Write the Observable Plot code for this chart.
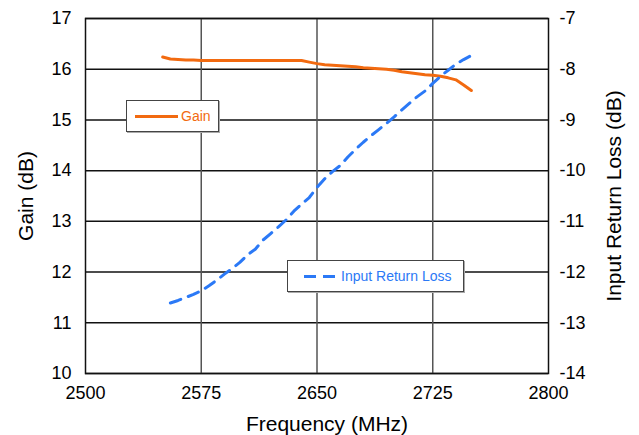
<!DOCTYPE html>
<html><head><meta charset="utf-8">
<script src="https://cdn.jsdelivr.net/npm/d3@7"></script>
<script src="https://cdn.jsdelivr.net/npm/@observablehq/plot@0.6"></script>
<style>
html,body{margin:0;padding:0;background:#fff;}
#wrap{position:relative;width:639px;height:435px;font-family:"Liberation Sans",Arial,sans-serif;}
.leg{position:absolute;box-sizing:border-box;background:#fff;border:1.5px solid #444;box-shadow:1px 1px 0 #aaa;display:flex;align-items:center;font-size:14px;}
.sw{display:inline-block;height:0;}
</style></head><body><div id="wrap"></div>
<script>
const gainFreq = [2550,2555,2560,2565,2570,2575,2580,2590,2600,2610,2620,2630,2640,2645,2650,2655,2660,2665,2670,2675,2680,2685,2690,2695,2700,2705,2710,2715,2720,2725,2730,2735,2740,2745,2750];
const gainDb = [16.24,16.20,16.19,16.18,16.18,16.17,16.17,16.17,16.17,16.17,16.17,16.17,16.17,16.14,16.11,16.09,16.08,16.07,16.06,16.05,16.03,16.02,16.01,16.00,15.98,15.95,15.93,15.91,15.89,15.88,15.86,15.83,15.79,15.69,15.58];
const irlFreq = [2555,2560,2565,2570,2575,2580,2585,2590,2595,2600,2605,2610,2615,2620,2625,2630,2635,2640,2645,2650,2655,2660,2665,2670,2675,2680,2685,2690,2695,2700,2705,2710,2715,2720,2725,2730,2735,2740,2745,2750];
const irlDb = [-12.61,-12.56,-12.50,-12.44,-12.37,-12.27,-12.16,-12.04,-11.93,-11.81,-11.66,-11.55,-11.37,-11.24,-11.11,-10.97,-10.80,-10.66,-10.53,-10.33,-10.16,-10.02,-9.90,-9.73,-9.58,-9.44,-9.31,-9.19,-9.07,-8.94,-8.80,-8.67,-8.54,-8.43,-8.28,-8.14,-8.02,-7.90,-7.81,-7.73];
const xTicks = [2500,2575,2650,2725,2800];
const gainTicks = [10,11,12,13,14,15,16,17];
const irlTicks = [-14,-13,-12,-11,-10,-9,-8,-7];
const gainDomain = [10,17];
const irlDomain = [-14,-7];
const off = gainDomain[0] - irlDomain[0]; // maps right axis onto left scale

const gainData = gainFreq.map((f,i)=>({f, v:gainDb[i]}));
const irlData = irlFreq.map((f,i)=>({f, v:irlDb[i]}));
const font = '"Liberation Sans",Arial,sans-serif';

const chart = Plot.plot({
  width:639, height:435,
  marginLeft:85, marginRight:91, marginTop:18, marginBottom:62,
  style:{fontFamily:font, background:"#fff", color:"#000"},
  x:{domain:[2500,2800]},
  y:{domain:gainDomain},
  marks:[
    Plot.gridY(gainTicks,{stroke:"#111",strokeOpacity:1,strokeWidth:1.5}),
    Plot.gridX([2575,2650,2725],{stroke:"#555",strokeOpacity:1,strokeWidth:1.5}),
    Plot.frame({stroke:"#111",strokeWidth:1.5}),
    Plot.axisX(xTicks,{tickSize:0,tickPadding:13,fontSize:18,label:null,tickFormat:d=>String(d)}),
    Plot.axisY(gainTicks,{anchor:"left",tickSize:0,tickPadding:14,fontSize:18,label:null,tickFormat:d=>String(d)}),
    Plot.axisY(irlTicks.map(t=>t+off),{anchor:"right",tickSize:0,tickPadding:11,fontSize:18,label:null,tickFormat:d=>String(d-off)}),
    Plot.text(["Frequency (MHz)"],{frameAnchor:"bottom",textAnchor:"middle",lineAnchor:"middle",dx:10,dy:51,fontSize:21,fill:"#000"}),
    Plot.text(["Gain (dB)"],{frameAnchor:"left",textAnchor:"middle",lineAnchor:"middle",dx:-59,rotate:-90,fontSize:21,fill:"#000"}),
    Plot.text(["Input Return Loss (dB)"],{frameAnchor:"right",textAnchor:"middle",lineAnchor:"middle",dx:66,rotate:-90,fontSize:21,fill:"#000"}),
    Plot.line(gainData,{x:"f",y:"v",stroke:"#f26a10",strokeWidth:3}),
    Plot.line(irlData,{x:"f",y:d=>d.v+off,stroke:"#2b79f6",strokeWidth:3,strokeDasharray:"11,8",strokeLinecap:"round"})
  ]
});
const wrap = document.getElementById("wrap");
wrap.appendChild(chart);

function legend(left, top, w, h, color, dash, label, swW, pad, gap){
  const d = document.createElement("div");
  d.className = "leg";
  Object.assign(d.style,{left:left+"px",top:top+"px",width:w+"px",height:h+"px",paddingLeft:pad+"px",color});
  const s = document.createElement("span");
  s.className = "sw";
  s.style.width = swW+"px";
  s.style.marginRight = gap+"px";
  s.style.borderTop = "3px solid " + color;
  if (dash) { s.style.borderTop = "none"; s.style.height="3px";
    s.style.background = `repeating-linear-gradient(90deg, ${color} 0 12px, transparent 12px 19px)`; }
  d.appendChild(s);
  const t = document.createElement("span");
  t.textContent = label;
  d.appendChild(t);
  wrap.appendChild(d);
}
legend(126,100,93,32,"#f26a10",false,"Gain",43,8,3);
legend(287,260,177,32,"#2b79f6",true,"Input Return Loss",31,16,6);
</script></body></html>
